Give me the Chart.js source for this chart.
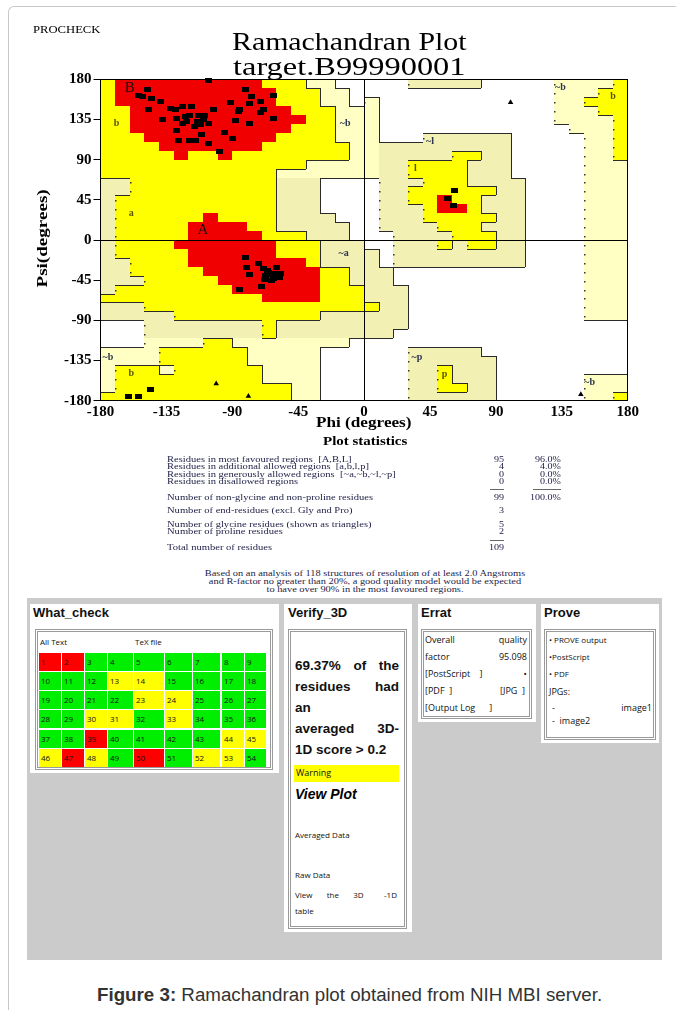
<!DOCTYPE html>
<html><head><meta charset="utf-8">
<script src="https://cdn.jsdelivr.net/npm/chart.js@4.4.1/dist/chart.umd.min.js"></script>
<style>
html,body{margin:0;padding:0;background:#fff;}
body{width:676px;height:1010px;position:relative;overflow:hidden;font-family:"Liberation Serif","Times New Roman",serif;}
.a{position:absolute;white-space:nowrap;line-height:1;}
.fit{transform-origin:0 50%;}
#frame{position:absolute;left:8px;top:6px;width:700px;height:1100px;border-left:1px solid #c8c8c8;border-top:1px solid #c8c8c8;border-top-left-radius:6px;}
#cv{position:absolute;left:0;top:0;}
.s{position:absolute;font-size:8.4px;color:#23234a;white-space:nowrap;line-height:1;font-family:"Liberation Serif",serif;transform-origin:0 50%;transform:scaleX(1.26);}
.n{position:absolute;font-size:8.4px;color:#23234a;text-align:right;line-height:1;width:40px;transform-origin:100% 50%;transform:scaleX(1.2);}
.f{position:absolute;font-size:8.4px;color:#23234a;white-space:nowrap;line-height:1;left:0;width:730px;text-align:center;transform-origin:365px 50%;transform:scaleX(1.24);}
.panel{position:absolute;background:#fff;}
.hdr{position:absolute;font:bold 13px "Liberation Sans",Arial,sans-serif;color:#111;}
.box{position:absolute;border:3px double #9a9a9a;box-sizing:border-box;}
.sm{position:absolute;font:8px "Open Sans","Noto Sans",sans-serif;color:#111;white-space:nowrap;line-height:1;}
.j{position:absolute;display:flex;justify-content:space-between;white-space:nowrap;line-height:1;}
.cell{position:absolute;font:8px "Open Sans","Noto Sans",sans-serif;color:#111;box-sizing:border-box;padding:3px 0 0 2px;}
</style></head><body>
<div id="frame"></div>
<canvas id="cv" width="676" height="440"></canvas>

<div class="a fit" id="proc" style="left:33px;top:25px;font-size:10px;">PROCHECK</div>
<div class="a fit" id="t1" style="left:232px;top:29px;font-size:25px;">Ramachandran Plot</div>
<div class="a fit" id="t2" style="left:233px;top:54px;font-size:25px;">target.B99990001</div>
<div class="a fit" id="xt" style="left:316px;top:415px;font-weight:bold;font-size:15px;">Phi (degrees)</div>
<div class="a" style="left:-8px;top:238px;width:100px;text-align:center;margin-top:-8px;transform:rotate(-90deg);transform-origin:50% 50%;"><span id="yt" style="display:inline-block;font-weight:bold;font-size:15px;transform-origin:50% 50%;">Psi(degrees)</span></div>
<div class="a fit" id="ps" style="left:323px;top:434px;font-weight:bold;font-size:13px;">Plot statistics</div>

<div id="stats"></div>

<div style="position:absolute;left:27px;top:598px;width:635px;height:362px;background:#cbcbcb;"></div>

<!-- What_check -->
<div class="panel" style="left:30px;top:604px;width:249px;height:169px;"></div>
<div class="hdr" style="left:33px;top:605px;">What_check</div>
<div class="box" style="left:35px;top:629px;width:238px;height:141px;"></div>
<div class="sm" style="left:40px;top:638px;">All Text</div>
<div class="sm" style="left:135px;top:638px;">TeX file</div>
<div id="wc"></div>

<!-- Verify_3D -->
<div class="panel" style="left:284px;top:604px;width:128px;height:328px;"></div>
<div class="hdr" style="left:288px;top:605px;">Verify_3D</div>
<div class="box" style="left:288px;top:629px;width:119px;height:300px;"></div>
<div id="vtext"></div>
<div style="position:absolute;left:294px;top:765px;width:105px;height:17px;background:#ffff00;"></div>
<div class="sm" style="left:296px;top:768px;font-size:9px;">Warning</div>
<div class="a" style="left:295px;top:786px;font:italic bold 14px 'Liberation Sans',Arial,sans-serif;">View Plot</div>
<div class="sm" style="left:295px;top:831px;">Averaged Data</div>
<div class="sm" style="left:295px;top:871px;">Raw Data</div>
<div class="j sm" style="left:295px;top:891px;width:102px;"><span>View</span><span>the</span><span>3D</span><span>&nbsp;&nbsp;&nbsp;-1D</span></div>
<div class="sm" style="left:295px;top:907px;">table</div>

<!-- Errat -->
<div class="panel" style="left:418px;top:604px;width:118px;height:118px;"></div>
<div class="hdr" style="left:421px;top:605px;">Errat</div>
<div class="box" style="left:421px;top:629px;width:111px;height:90px;"></div>
<div class="j sm" style="left:425px;top:635px;width:102px;font-size:9px;"><span>Overall</span><span>quality</span></div>
<div class="j sm" style="left:425px;top:652px;width:102px;font-size:9px;"><span>factor</span><span>95.098</span></div>
<div class="j sm" style="left:425px;top:669px;width:102px;font-size:9px;"><span>[PostScript&nbsp;&nbsp;&nbsp;&nbsp;]</span><span>•</span></div>
<div class="j sm" style="left:425px;top:686px;width:100px;font-size:9px;"><span>[PDF&nbsp;&nbsp;]</span><span>[JPG&nbsp;&nbsp;]</span></div>
<div class="sm" style="left:425px;top:703px;font-size:9px;">[Output Log&nbsp;&nbsp;&nbsp;&nbsp;&nbsp;&nbsp;]</div>

<!-- Prove -->
<div class="panel" style="left:541px;top:604px;width:118px;height:139px;"></div>
<div class="hdr" style="left:544px;top:605px;">Prove</div>
<div class="box" style="left:544px;top:629px;width:112px;height:111px;"></div>
<div class="sm" style="left:549px;top:636px;">• PROVE output</div>
<div class="sm" style="left:549px;top:653px;">•PostScript</div>
<div class="sm" style="left:549px;top:670px;">• PDF</div>
<div class="sm" style="left:549px;top:687px;font-size:9px;">JPGs:</div>
<div class="j sm" style="left:552px;top:703px;width:100px;font-size:9px;"><span>-</span><span>image1</span></div>
<div class="sm" style="left:552px;top:716px;font-size:9px;">- &nbsp;image2</div>

<div class="a" style="left:0;width:700px;text-align:center;top:985px;"><span id="cap" style="display:inline-block;font:18px 'Liberation Sans',Arial,sans-serif;color:#333;transform-origin:50% 50%;"><b>Figure 3:</b> Ramachandran plot obtained from NIH MBI server.</span></div>

<script>
// ---------------- DATA ----------------
const phiTicks = [-180, -135, -90, -45, 0, 45, 90, 135, 180];
const psiTicks = [-180, -135, -90, -45, 0, 45, 90, 135, 180];

// Region map: 36 rows (psi 180 -> -180, 10 deg each), 36 columns (phi -180 -> 180)
// R = most favoured, Y = additional allowed, G/C = generously allowed, W = disallowed
const regionRows = [
  "YRRRRRRRRRRYYYCCWW" + "WWWGGGGGWWWWWCCCCY",
  "YRRRRRRRRRRRYYYCCW" + "WWWWWWWWWWWWWCCCYY",
  "YRRRRRRRRRRRYYYCCW" + "CWWWWWWWWWWWWCCYYY",
  "YYRRRRRRRRRRRYYYCC" + "CWWWWWWWWWWWWCCCYY",
  "YYRRRRRRRRRRRRYYCC" + "CWWWWWWWWWWWWCCCCY",
  "YYRRRRRRRRRRRYYYCC" + "CWWWWWWWWWWWWWCCCY",
  "YYYRRRRRRRRRYYYYCC" + "CWWWGGGGGGWWWWWCCY",
  "YYYYRRRRRRRYYYYYYC" + "CGGGGGGGGGWWWWWCCY",
  "YYYYYRYYRYYYYYYYYC" + "CGGGGGYYGGWWWWWCCY",
  "YYYYYYYYYYYYYYCCCC" + "CGGYYYYGGGWWWWWCCC",
  "YYYYYYYYYYYYCCCCCC" + "CGGYYYYGGGWWWWWCCC",
  "GGYYYYYYYYYYGGGWWW" + "WGGGYYYGGGGWWWWCCC",
  "GGYYYYYYYYYYGGGWWW" + "WGGYYYYYYGGWWWWCCC",
  "GYYYYYYYYYYYGGGWWW" + "WGGYYRYYGGGWWWWCCC",
  "GYYYYYYYYYYYGGGWWW" + "WGGGYRRYGGGWWWWCCC",
  "GYYYYYYRYYYYGGGGWW" + "WGGGYYYYYGGWWWWCCC",
  "GYYYYYRRRRYYGGGGGW" + "WGGGGYYYGGGWWWWCCC",
  "GYYYYYRRRRRYYYGGGW" + "WWGGGGYYYGGWWWWCCC",
  "GYYYYRRRRRRRYYYGGG" + "WWGGGYGYYGGWWWWCCC",
  "GYYYYYRRRRRRYYYGGG" + "GWGGGGGGGGGWWWWCCC",
  "GGYYYYRRRRRRRRYGGG" + "GWGGGGGGGGGWWWWCCC",
  "GGYYYYYRRRRRRRRYYG" + "GGWWWWWWWWWWWWWCCC",
  "GGGYYYYYRRRRRRRYYG" + "GGWWWWWWWWWWWWWCCC",
  "GYYYYYYYYRRRRRRYYY" + "GGGWWWWWWWWWWWWCCC",
  "YYYYYYYYYYYRRRRYYY" + "GGGWWWWWWWWWWWWCCC",
  "GGGYYYYYYYYYYYYYYY" + "YGGWWWWWWWWWWWWCCC",
  "GGGGGYYYYYYYYYYGGG" + "GGGWWWWWWWWWWWWCCC",
  "WWWGGGGGGGGYGGGGGG" + "GGGWWWWWWWWWWWWWWW",
  "WWWGGGGGGGGYGGGGGG" + "GGWWWWWWWWWWWWWWWW",
  "WWWCCCCYYCCCCCCCCW" + "WWWWWWWWWWWWWWWWWW",
  "CCCCYYYYYYCCCCCWWW" + "WWWGGGGGWWWWWWWWWW",
  "CCCCYYYYYYCCCCCWWW" + "WWWGGGGGGWWWWWWWWW",
  "CYYYCYYYYYYCCCCWWW" + "WWWGGYGGGWWWWWWWWW",
  "CYYYYYYYYYYCCCCWWW" + "WWWGGYGGGWWWWWWCCC",
  "CYYYYYYYYYYYYCCWWW" + "WWWGGYYGGWWWWWWCCC",
  "YYYYYYYYYYYYYCCWWW" + "WWWGGGGGGWWWWWWCCY"
];

// Non-glycine residues [phi, psi]
const residues = [
  [-106,179],[-148,169],[-154,162],[-151,161],[-145,159],[-139,155],[-132,147],[-129,146],
  [-124,149],[-118,150],[-147,146],[-138,135],[-128,136],[-124,131],[-122,138],[-119,140],
  [-113,140],[-109,140],[-114,133],[-112,129],[-111,118],[-128,123],[-127,111],[-119,111],
  [-115,112],[-106,108],[-99,99],[-106,131],[-103,146],[-95,120],[-90,114],[-88,134],
  [-86,144],[-85,146],[-91,154],[-81,169],[-77,161],[-78,153],[-71,155],[-71,143],
  [-69,146],[-62,162],[-78,131],[-62,136],[-121,133],[-116,127],[-110,135],
  [-81,-20],[-72,-26],[-80,-31],[-69,-32],[-60,-31],[-64,-39],[-62,-43],[-78,-39],
  [-70,-52],[-85,-55],[-58,-42],[-66,-34],[-61,-37],[-67,-40],[-63,-45],[-65,-36],
  [-68,-44],[-57,-38],
  [62,55],[57,46],[61,39],
  [-161,-175],[-154,-175],[-146,-168]
];
// Glycine residues (triangles)
const glycines = [[100,154],[-101,-161],[-79,-175],[148,-173]];

// Region labels [text, phi, psi]
const regionLabels = [
  ["B",-160,170],["b",-169,131],["a",-159,30],["A",-110,11],["~b",-13,131],["~a",-14,-15],
  ["~l",45,110],["l",35,80],["~b",134,171],["b",170,161],["~b",-175,-131],["b",-159,-149],
  ["~p",36,-132],["p",55,-151],["~b",154,-159]
];

// Plot statistics
const statLabels = [
  "Residues in most favoured regions\u00a0\u00a0[A,B,L]",
  "Residues in additional allowed regions\u00a0\u00a0[a,b,l,p]",
  "Residues in generously allowed regions\u00a0\u00a0[~a,~b,~l,~p]",
  "Residues in disallowed regions",
  "Number of non-glycine and non-proline residues",
  "Number of end-residues (excl. Gly and Pro)",
  "Number of glycine residues (shown as triangles)",
  "Number of proline residues",
  "Total number of residues"
];
const statCounts = ["95","4","0","0","99","3","5","2","109"];
const statPercents = ["96.0%","4.0%","0.0%","0.0%","100.0%","","","",""];
const footnote = [
  "Based on an analysis of 118 structures of resolution of at least 2.0 Angstroms",
  "and R-factor no greater than 20%, a good quality model would be expected",
  "to have over 90% in the most favoured regions."
];

// What_check table
const wcNumbers = [1,2,3,4,5,6,7,8,9,10,11,12,13,14,15,16,17,18,19,20,21,22,23,24,25,26,27,
  28,29,30,31,32,33,34,35,36,37,38,39,40,41,42,43,44,45,46,47,48,49,50,51,52,53,54];
const wcStatus = ["R","R","G","G","G","G","G","G","G",
  "G","G","G","Y","Y","G","G","G","G",
  "G","G","G","G","Y","Y","G","G","G",
  "G","G","Y","Y","G","Y","G","G","G",
  "G","G","R","G","G","G","G","Y","Y",
  "Y","R","Y","G","R","G","Y","Y","G"];
const verifyLines = [["69.37%","of","the"],["residues","had"],["an"],["averaged","3D-"],["1D score > 0.2"]];

// ---------------- STYLES / RENDER ----------------
const regionColors = {R:"#f00000", Y:"#ffff00", G:"#f2f0b2", C:"#ffffc4", W:"#ffffff"};
const rank = {R:3, Y:2, G:1, C:1, W:0};

const regionPlugin = {
  id: "regions",
  beforeDraw(chart) {
    const {ctx} = chart; const xs = chart.scales.x, ys = chart.scales.y;
    const px = v => Math.round(xs.getPixelForValue(v));
    const py = v => Math.round(ys.getPixelForValue(v));
    ctx.save();
    for (let r = 0; r < regionRows.length; r++) {
      const row = regionRows[r];
      const y0 = py(180 - 10 * r), y1 = py(170 - 10 * r);
      for (let c = 0; c < row.length; c++) {
        const x0 = px(-180 + 10 * c), x1 = px(-170 + 10 * c);
        ctx.fillStyle = regionColors[row[c]];
        ctx.fillRect(x0, y0, x1 - x0, y1 - y0);
      }
    }
    ctx.strokeStyle = "#2a2a2a"; ctx.lineWidth = 1;
    ctx.beginPath();
    for (let r = 0; r < regionRows.length; r++) {
      const row = regionRows[r];
      const y0 = py(180 - 10 * r), y1 = py(170 - 10 * r);
      for (let c = 0; c < row.length - 1; c++) {
        const a = row[c], b = row[c + 1];
        if (a === "R" || b === "R" || rank[a] === rank[b]) continue;
        const xb = px(-170 + 10 * c) + 0.5;
        if (rank[a] > rank[b]) { ctx.moveTo(xb, y0); ctx.lineTo(xb, y1); }
      }
      if (r < regionRows.length - 1) {
        const nxt = regionRows[r + 1];
        for (let c = 0; c < row.length; c++) {
          const a = row[c], b = nxt[c];
          if (a === "R" || b === "R" || rank[a] === rank[b]) continue;
          const x0 = px(-180 + 10 * c), x1 = px(-170 + 10 * c);
          ctx.moveTo(x0, y1 + 0.5); ctx.lineTo(x1, y1 + 0.5);
        }
      }
    }
    ctx.stroke();
    ctx.fillStyle = "#333";
    for (let r = 0; r < regionRows.length; r++) {
      const row = regionRows[r];
      const ym = (py(180 - 10 * r) + py(170 - 10 * r)) / 2;
      for (let c = 0; c < row.length - 1; c++) {
        const a = row[c], b = row[c + 1];
        if (a === "R" || b === "R" || rank[a] >= rank[b]) continue;
        const xb = px(-170 + 10 * c);
        ctx.fillRect(xb, Math.round(ym), 1.5, 1.5);
      }
    }
    ctx.restore();
  },
  afterDatasetsDraw(chart) {
    const {ctx} = chart; const xs = chart.scales.x, ys = chart.scales.y;
    ctx.save();
    ctx.textAlign = "center"; ctx.textBaseline = "middle";
    regionLabels.forEach(([t, phi, psi]) => {
      const big = t === "A" || t === "B";
      ctx.font = big ? "15px 'Liberation Serif', serif" : "bold 10px 'Liberation Serif', serif";
      ctx.fillStyle = big ? "#111" : (t[0] === "~" ? "#2b3550" : "#5a5500");
      ctx.fillText(t, xs.getPixelForValue(phi), ys.getPixelForValue(psi));
    });
    ctx.restore();
  }
};

const sq = document.createElement("canvas"); sq.width = 7; sq.height = 5;
(function(){ const c = sq.getContext("2d"); c.fillStyle = "#000"; c.fillRect(0,0,7,5); })();

const tickFont = {family: "'Liberation Serif','Times New Roman',serif", size: 15, weight: "bold"};
new Chart(document.getElementById("cv"), {
  type: "scatter",
  data: {
    datasets: [
      {data: residues.map(([x, y]) => ({x, y})), pointStyle: sq, pointRadius: 3.5, clip: false,
       backgroundColor: "#000", borderColor: "#000"},
      {data: glycines.map(([x, y]) => ({x, y})), pointStyle: "triangle", pointRadius: 3.2, clip: false,
       backgroundColor: "#000", borderColor: "#000", borderWidth: 0}
    ]
  },
  options: {
    responsive: false, animation: false, devicePixelRatio: 1,
    layout: {padding: {left: 0, top: 79.3, right: 48.3, bottom: 0}},
    plugins: {legend: {display: false}, tooltip: {enabled: false}},
    scales: {
      x: {
        type: "linear", min: -180, max: 180,
        afterBuildTicks: s => { s.ticks = phiTicks.map(v => ({value: v})); },
        afterFit: s => { s.height = 39.3; },
        ticks: {font: tickFont, color: "#000", padding: 2, maxRotation: 0, autoSkip: false},
        grid: {color: c => (c.tick && c.tick.value === 0 ? "#000" : "rgba(0,0,0,0)"), drawTicks: false, lineWidth: 1},
        border: {display: true, color: "#000", width: 1}
      },
      y: {
        type: "linear", min: -180, max: 180,
        afterBuildTicks: s => { s.ticks = psiTicks.map(v => ({value: v})); },
        afterFit: s => { s.width = 100.5; },
        ticks: {font: tickFont, color: "#000", padding: 2, autoSkip: false},
        grid: {color: c => (c.tick && c.tick.value === 0 ? "#000" : "rgba(0,0,0,0)"), tickColor: "#000", tickLength: 7, lineWidth: 1},
        border: {display: true, color: "#000", width: 1}
      },
      x2: {position: "top", type: "linear", min: -180, max: 180, display: true,
        ticks: {display: false}, grid: {display: false, drawTicks: false}, border: {display: true, color: "#000"},
        afterFit: s => { s.height = 0; }},
      y2: {position: "right", type: "linear", min: -180, max: 180, display: true,
        ticks: {display: false}, grid: {display: false, drawTicks: false}, border: {display: true, color: "#000"},
        afterFit: s => { s.width = 0; }}
    }
  },
  plugins: [regionPlugin]
});

// Stats text
const stats = document.getElementById("stats");
const statTops = [455.5, 463, 470.5, 478, 493.5, 507, 520.5, 528, 544];
statLabels.forEach((t, i) => {
  const d = document.createElement("div"); d.className = "s"; d.textContent = t;
  d.style.left = "167px"; d.style.top = statTops[i] + "px"; stats.appendChild(d);
  const n = document.createElement("div"); n.className = "n"; n.textContent = statCounts[i];
  n.style.left = "464px"; n.style.top = statTops[i] + "px"; stats.appendChild(n);
  if (statPercents[i]) {
    const p = document.createElement("div"); p.className = "n"; p.textContent = statPercents[i];
    p.style.left = "521px"; p.style.top = statTops[i] + "px"; stats.appendChild(p);
  }
});
[[489, 490, 504], [489, 533, 561], [539.5, 490, 504]].forEach(([top, l, r]) => {
  const d = document.createElement("div");
  d.style.cssText = `position:absolute;left:${l}px;top:${top}px;width:${r - l}px;border-top:1px solid #666;`;
  stats.appendChild(d);
});
const footTops = [569.5, 577.5, 585.5];
footnote.forEach((t, i) => {
  const d = document.createElement("div"); d.className = "f"; d.textContent = t;
  d.style.top = footTops[i] + "px";
  stats.appendChild(d);
});

// What_check cells
const wcLeft = [39, 62, 85, 108, 134, 165, 193, 222, 245];
const wcWidth = [22, 21.5, 22, 24.5, 29.5, 27, 27, 21.5, 21];
const wcColors = {R: "#ff0000", G: "#00ee00", Y: "#ffff00"};
const wc = document.getElementById("wc");
wcNumbers.forEach((n, i) => {
  const c = i % 9, r = Math.floor(i / 9);
  const d = document.createElement("div"); d.className = "cell"; d.textContent = n;
  d.style.left = wcLeft[c] + "px"; d.style.width = wcWidth[c] + "px";
  d.style.top = (652.5 + 19.3 * r) + "px"; d.style.height = "18px";
  d.style.background = wcColors[wcStatus[i]];
  wc.appendChild(d);
});

// Verify_3D text
const vt = document.getElementById("vtext");
const vTops = [658, 679, 700, 721, 742];
verifyLines.forEach((words, i) => {
  const d = document.createElement("div"); d.className = "j";
  d.style.cssText += `left:295px;top:${vTops[i]}px;width:104px;font:bold 13.5px 'Liberation Sans',Arial,sans-serif;color:#111;`;
  words.forEach(w => { const s = document.createElement("span"); s.textContent = w; d.appendChild(s); });
  vt.appendChild(d);
});

// stretch text horizontally (layout width is unaffected by transforms)
function fit(id, w) { const e = document.getElementById(id); e.style.transform = `scaleX(${w / e.offsetWidth})`; }
fit("proc", 67); fit("t1", 234); fit("t2", 232); fit("xt", 95); fit("ps", 84);
fit("cap", 505); fit("yt", 98);
</script>
</body></html>
